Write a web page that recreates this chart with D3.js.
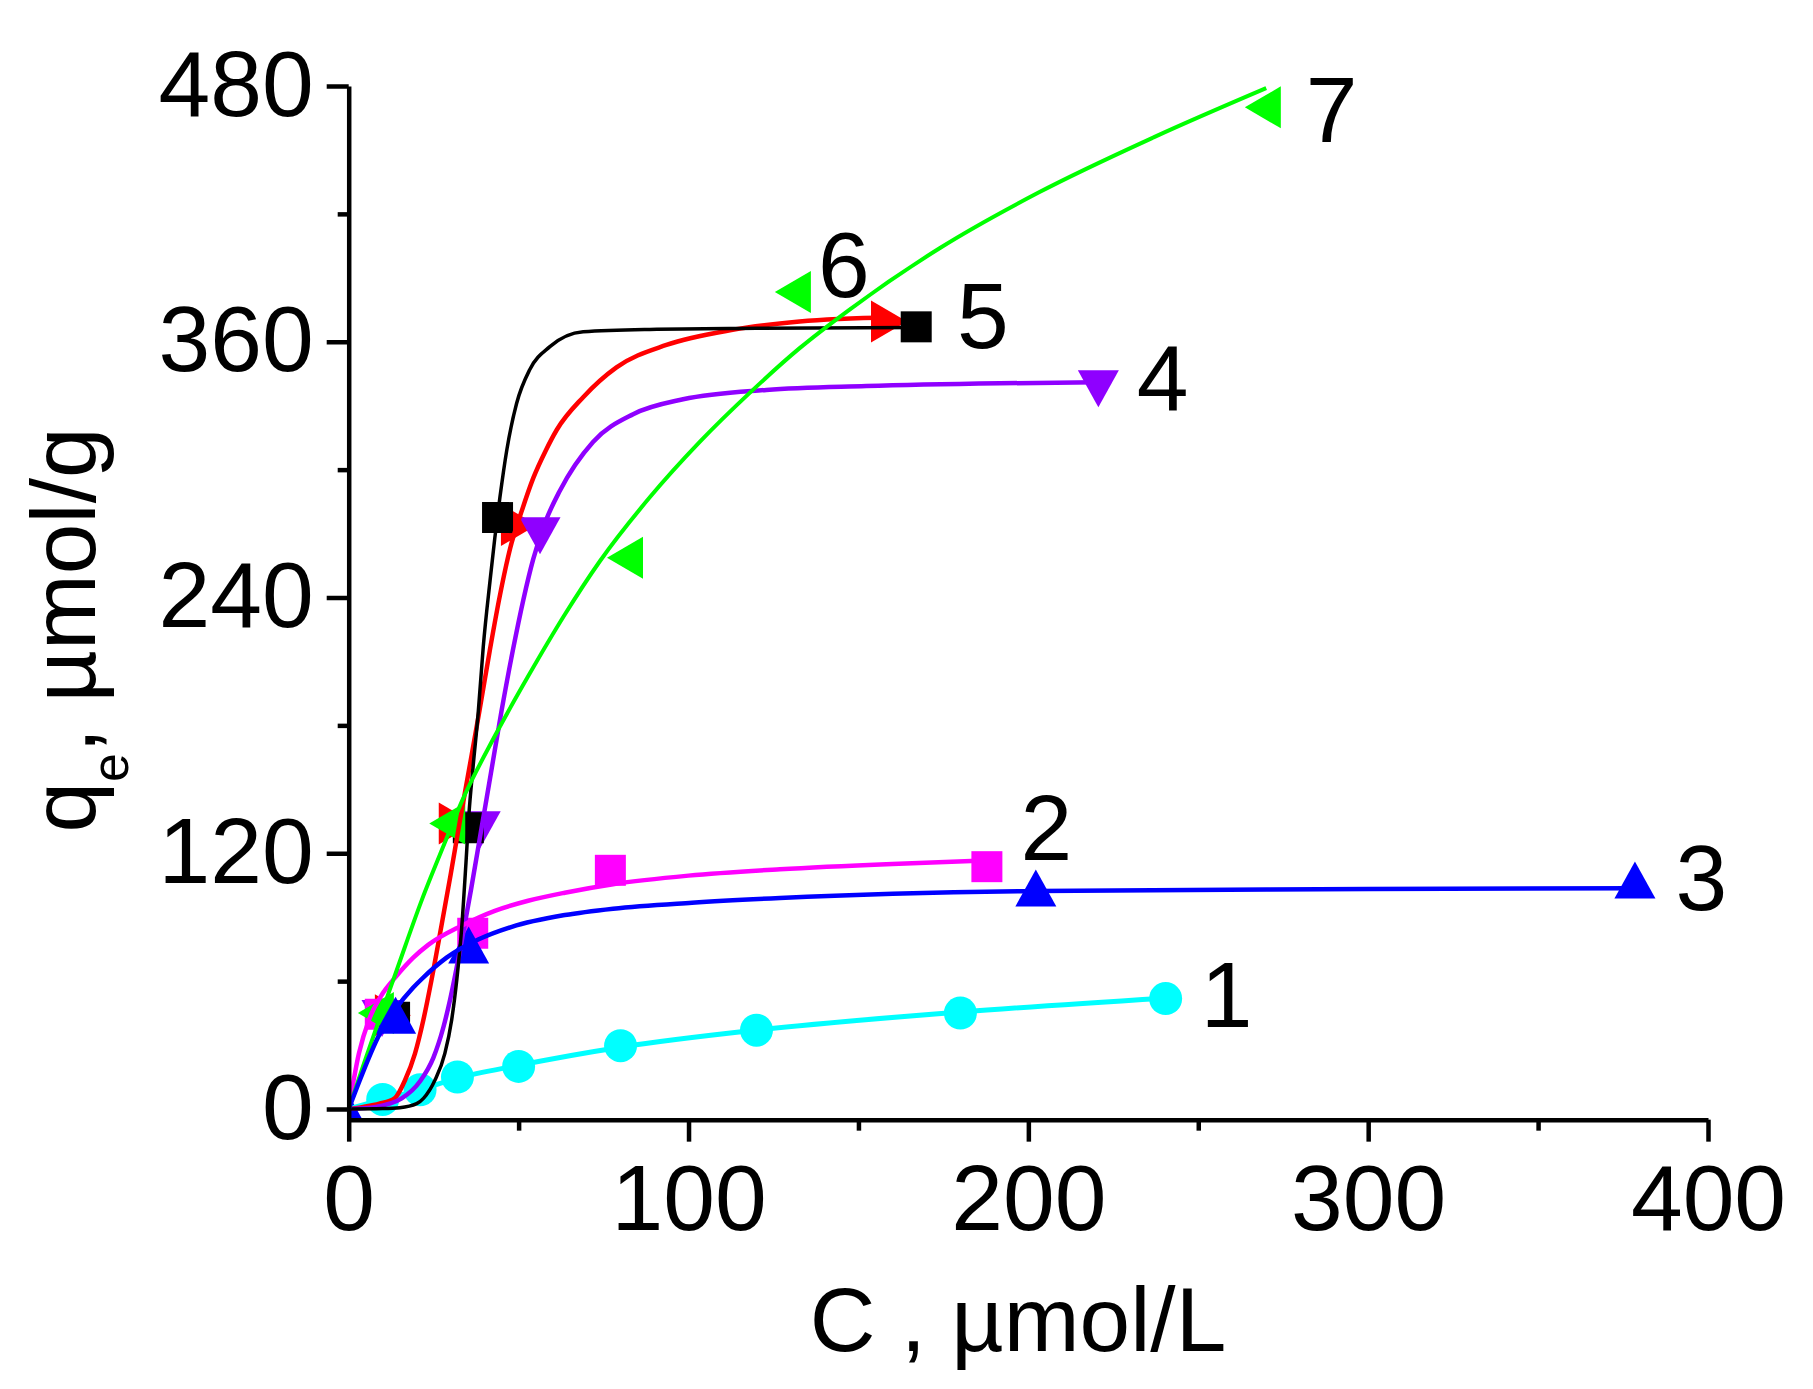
<html>
<script src='https://d3js.org/d3.v7.min.js'></script>
<style>
  body {margin: 0; background: #fff;}
  text {font-family: 'Liberation Sans', Arial, sans-serif; fill: #000;}
</style>
<body onload='init()'>
<svg width=1813 height=1389></svg>
<script>
// axis ticks
var xTicks = [0, 100, 200, 300, 400];
var xMinor = [50, 150, 250, 350];
var yTicks = [0, 120, 240, 360, 480];
var yMinor = [60, 180, 300, 420];

// measured points [C, qe]
var pts1 = [[10,4.5],[21,9],[32,15],[50,20],[80,29.7],[120,37],[180,45],[240.4,51.8]];
var pts2 = [[9.3,44.5],[36.5,82.5],[77,112],[187.8,113.7]];
var pts3 = [[0,-2],[13.8,44],[35.3,77],[202.2,103.7],[378.5,107.5]];
var pts4 = [[9.8,42.5],[38.7,131],[56.3,269],[220.6,338]];
var pts5 = [[13.5,43],[35.2,132],[43.8,277.5],[167,367]];
var pts6 = [[13,44],[31.8,134],[50.1,274],[159,369.5]];
var pts7 = [[8,45],[29,134],[81.3,258.6],[130.7,383.4],[269,470]];

// fitted curves
var fit1 = [[0,0],[10,4.5],[21,9],[32,14.5],[50,20.5],[80,29],[120,37],[180,45.5],[240,52]];
var fit2 = [[0,0],[3,26],[6,42],[9.5,53],[13.6,61.5],[19,71],[23.4,77],[33.2,86],[43,93],[52.8,97.7],[63.6,101.5],[77.8,105.5],[100,109.5],[126.9,112.5],[160,115],[186,116.5]];
var fit3 = [[0,0],[2.4,10],[9.2,35.5],[13.6,46.5],[19,57],[21.5,61],[28.8,71],[38.1,79.5],[48,85.5],[63.6,91],[77.8,94],[101,96.8],[126.9,99],[203,102.3],[300,103.2],[378,103.6]];
var fit4 = [[0,0],[8,1],[12,2.5],[15.6,5],[21,13],[24.9,24],[27.8,38],[29.8,51],[32.7,74],[36,103],[38.9,130],[42,159],[45,187],[48.4,216],[51.4,239],[54.3,258],[58,276],[62.1,290],[71.9,313],[83.7,326],[98.4,333],[122.9,337.4],[152.3,339.2],[191.6,340.5],[220,341]];
var fit5 = [[0,0],[10,0.2],[15,0.6],[20,2.5],[22,5],[25.4,13.6],[28.3,26.1],[30.3,41.8],[31.8,60.5],[33.2,84],[34.5,115.3],[35.4,138.8],[36.6,160.6],[38.1,185.7],[39.6,217],[41.6,248],[43,268],[44.5,287],[46.5,309],[49.4,331],[53.3,347],[59.2,357.7],[69,364.7],[88.6,365.8],[120,366.3],[166.7,366.7]];
var fit6 = [[0,0],[4.3,1],[9,2.5],[13.5,5],[16.6,13.6],[19.5,26],[22,42],[24.3,60],[27.3,86],[30,110],[32.7,135],[35.5,160],[38.5,187],[41.5,215],[44.5,241],[47.5,263],[51,281],[54.3,296],[58,309],[61.2,318.6],[69,334],[78.8,348],[93.5,358.5],[113,365.6],[132.7,369.5],[160,371.5]];
var fit7 = [[0,0],[4.3,20.5],[9.2,43],[14.1,65],[21.5,98],[28.3,125],[33.2,144],[43,175],[52.8,203],[63.6,232],[73.9,257],[88.6,287],[103.3,313],[118,336],[132.7,357],[147.3,375],[174,404],[203,430],[237,456],[270,479]];

// curve numbers and where they sit (data units)
var labelText = ['1','2','3','4','5','6','7'];
var labelPos = [[250.7,38.5],[197.7,116.8],[390.4,93.4],[231.9,328],[179,357.1],[138.1,381],[281.6,453.7]];

function init() {

var svg = d3.select('svg');
var x = d3.scaleLinear([0, 400], [348.7, 1708]);
var y = d3.scaleLinear([-5, 480], [1119.66, 86]);

var series = [
  {pts: pts1, fit: fit1, color: '#00ffff', shape: 'circle', w: 5},
  {pts: pts6, fit: fit6, color: '#ff0000', shape: 'right', w: 4.5},
  {pts: pts4, fit: fit4, color: '#8f00ff', shape: 'down', w: 4.5},
  {pts: pts2, fit: fit2, color: '#ff00ff', shape: 'square', w: 4.5},
  {pts: pts5, fit: fit5, color: '#000000', shape: 'square', w: 3.5},
  {pts: pts7, fit: fit7, color: '#00ff00', shape: 'left', w: 4},
  {pts: pts3, fit: fit3, color: '#0000ff', shape: 'up', w: 4.5}
];

function shape(s) {
  if (s == 'circle') return 'M-16.5,0A16.5,16.5 0 1,0 16.5,0A16.5,16.5 0 1,0 -16.5,0Z';
  if (s == 'square') return 'M-15.5,-15.5H15.5V15.5H-15.5Z';
  if (s == 'up') return 'M0,-18.5L20.5,18.5L-20.5,18.5Z';
  if (s == 'down') return 'M0,18.5L20.5,-18.5L-20.5,-18.5Z';
  if (s == 'left') return 'M-18,0L18,-21L18,21Z';
  return 'M18,0L-18,-21L-18,21Z';
}

svg.append('clipPath').attr('id', 'plot')
   .append('rect')
   .attr('x', x(0)).attr('y', 0)
   .attr('width', x(400) - x(0)).attr('height', y(-5));

var plot = svg.append('g').attr('clip-path', 'url(#plot)');

// symbols
series.forEach(function(s) {
  plot.append('g')
      .selectAll('path')
      .data(s.pts)
      .enter()
      .append('path')
      .attr('d', shape(s.shape))
      .attr('transform', (d) => 'translate(' + x(d[0]) + ',' + y(d[1]) + ')')
      .attr('fill', s.color);
});

// fitted lines on top
var line = d3.line()
    .x((d) => x(d[0]))
    .y((d) => y(d[1]))
    .curve(d3.curveMonotoneX);

series.forEach(function(s) {
  plot.append('path')
      .datum(s.fit)
      .attr('d', line)
      .attr('fill', 'none')
      .attr('stroke', s.color)
      .attr('stroke-width', s.w);
});

// axes
var font = "'Liberation Sans', Arial, sans-serif";

var gx = svg.append('g')
    .attr('transform', 'translate(0,' + y(-5) + ')')
    .call(d3.axisBottom(x).tickValues(xTicks).tickSize(22).tickSizeOuter(0).tickFormat(d3.format('d')));
gx.append('g')
    .call(d3.axisBottom(x).tickValues(xMinor).tickSize(11).tickFormat(''))
    .select('.domain').remove();
gx.selectAll('text')
    .attr('y', 110).attr('dy', null)
    .attr('font-size', 93).attr('font-family', font);

var gy = svg.append('g')
    .attr('transform', 'translate(' + x(0) + ',0)')
    .call(d3.axisLeft(y).tickValues(yTicks).tickSize(22).tickSizeOuter(0).tickFormat(d3.format('d')));
gy.append('g')
    .call(d3.axisLeft(y).tickValues(yMinor).tickSize(11).tickFormat(''))
    .select('.domain').remove();
gy.selectAll('text')
    .attr('x', -35).attr('y', 29).attr('dy', null)
    .attr('font-size', 93).attr('font-family', font);

svg.selectAll('.domain, .tick line')
    .attr('stroke', '#000')
    .attr('stroke-width', 4.5);

// curve numbers
svg.append('g')
    .selectAll('text')
    .data(labelText)
    .enter()
    .append('text')
    .attr('x', (d, i) => x(labelPos[i][0]))
    .attr('y', (d, i) => y(labelPos[i][1]))
    .attr('font-size', 93)
    .text((d) => d);

// axis titles
svg.append('text')
    .attr('x', 1018).attr('y', 1351)
    .attr('text-anchor', 'middle')
    .attr('font-size', 91)
    .text('C , \u00b5mol/L');

var yt = svg.append('text')
    .attr('transform', 'translate(95,630) rotate(-90)')
    .attr('text-anchor', 'middle')
    .attr('font-size', 91);
yt.append('tspan').text('q');
yt.append('tspan').attr('font-size', 52).attr('dy', 33).text('e');
yt.append('tspan').attr('dy', -33).text(', \u00b5mol/g');

}
</script>
</body>
</html>
